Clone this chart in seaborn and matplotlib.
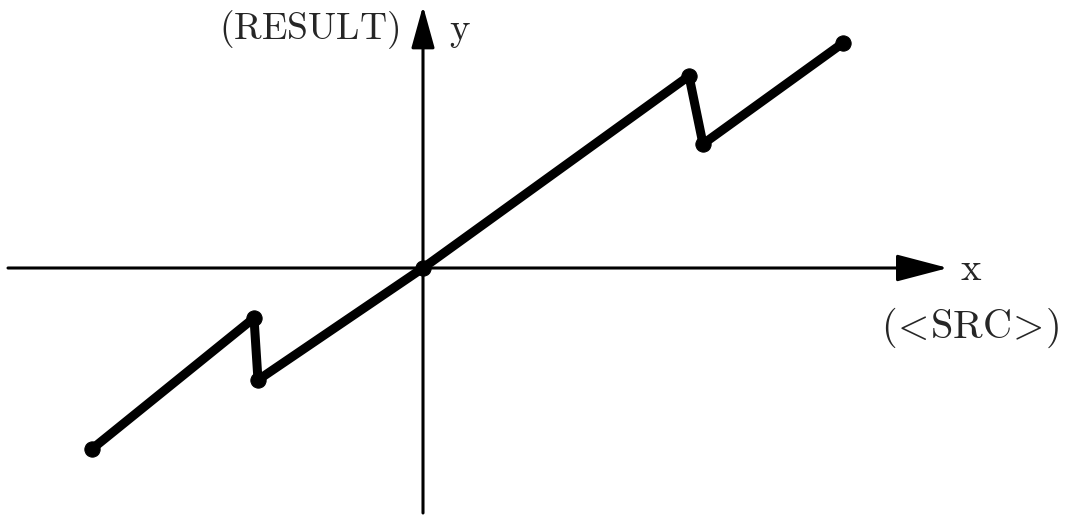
import matplotlib
matplotlib.use("Agg")
import matplotlib.pyplot as plt
import pandas as pd
import seaborn as sns

# Data: piecewise path of RESULT against SRC (two jumps)
src_x = [-331, -169, -165, 0, 266, 280, 420]
result_y = [-181, -50, -112, 0, 192, 124, 225]

sns.set_style("white")
plt.rcParams['mathtext.fontset'] = 'cm'
plt.rcParams['font.family'] = ['DejaVu Serif']

df = pd.DataFrame({"SRC": src_x, "RESULT": result_y})

fig = plt.figure(figsize=(10.7, 5.18), dpi=100)
ax = fig.add_axes([0, 0, 1, 1])

# Coordinate axes with arrowheads
ax.annotate("", xy=(525, 0), xytext=(-415, 0),
            arrowprops=dict(arrowstyle="-|>,head_length=1.6,head_width=0.42",
                            color="black", lw=2.2, mutation_scale=20,
                            shrinkA=0, shrinkB=0))
ax.annotate("", xy=(0, 262), xytext=(0, -245),
            arrowprops=dict(arrowstyle="-|>,head_length=1.3,head_width=0.36",
                            color="black", lw=2.2, mutation_scale=20,
                            shrinkA=0, shrinkB=0))

sns.lineplot(data=df, x="SRC", y="RESULT", sort=False, ax=ax, color="black",
             lw=6.5, marker="o", markersize=11, markeredgecolor="black",
             solid_capstyle="round", solid_joinstyle="round", zorder=3)
ax.set_xlim(-423, 647)
ax.set_ylim(-250, 268)
ax.axis("off")

ax.text(548, -2, r"$\mathrm{x}$", fontsize=28, ha="center", va="center")
ax.text(547, -60, r"$(\!<\!\mathrm{SRC}\!>\!)$", fontsize=29,
        ha="center", va="center")
ax.text(37, 236, r"$\mathrm{y}$", fontsize=28, ha="center", va="center")
ax.text(-114, 238, r"$(\mathrm{RESULT})$", fontsize=27, ha="center", va="center")

fig.savefig("out.png", dpi=100)
